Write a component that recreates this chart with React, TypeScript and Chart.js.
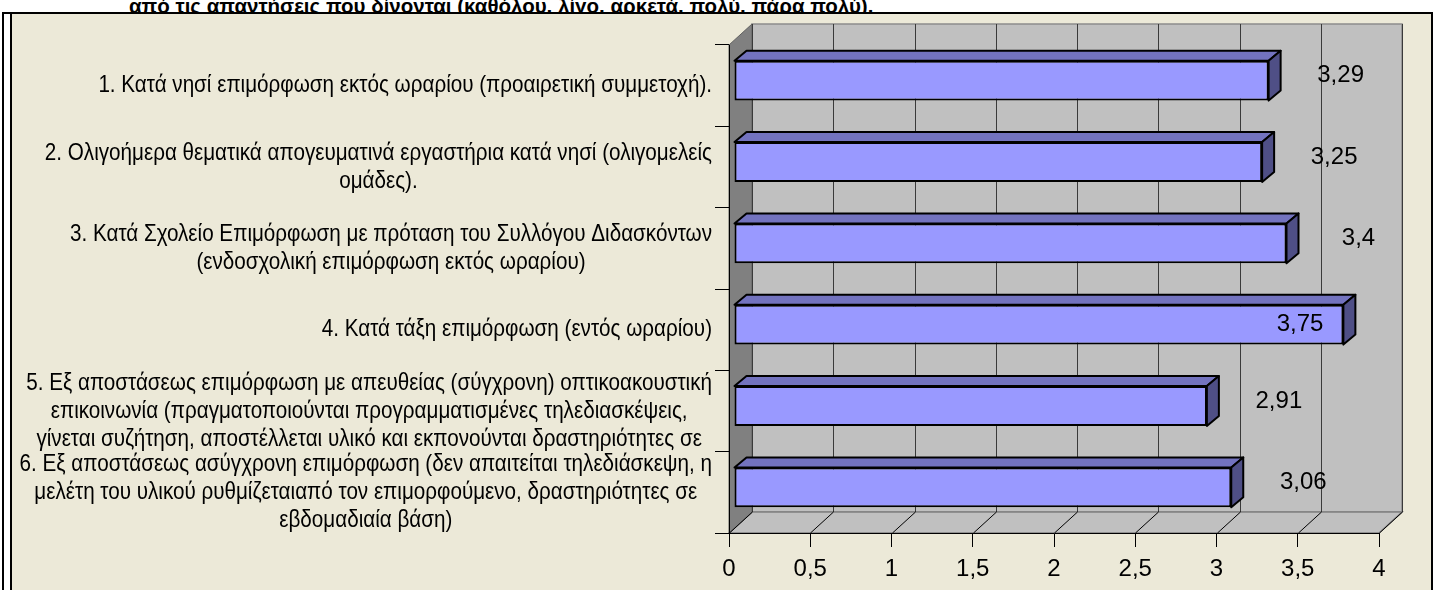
import React, { useEffect, useRef } from 'react';
import { Chart, registerables } from 'chart.js';

Chart.register(...registerables);

// ---------- data ----------
const categories: string[][] = [
  ['1. Κατά νησί επιμόρφωση εκτός ωραρίου (προαιρετική συμμετοχή).'],
  ['2. Ολιγοήμερα θεματικά απογευματινά εργαστήρια κατά νησί (ολιγομελείς', 'ομάδες).'],
  ['3. Κατά Σχολείο Επιμόρφωση με πρόταση του Συλλόγου Διδασκόντων', '(ενδοσχολική επιμόρφωση εκτός ωραρίου)'],
  ['4. Κατά τάξη επιμόρφωση (εντός ωραρίου)'],
  [
    '5. Εξ αποστάσεως επιμόρφωση με απευθείας (σύγχρονη) οπτικοακουστική',
    'επικοινωνία (πραγματοποιούνται προγραμματισμένες τηλεδιασκέψεις,',
    'γίνεται συζήτηση, αποστέλλεται υλικό και εκπονούνται δραστηριότητες σε',
  ],
  [
    '6. Εξ αποστάσεως ασύγχρονη επιμόρφωση (δεν απαιτείται τηλεδιάσκεψη, η',
    'μελέτη του υλικού ρυθμίζεταιαπό τον επιμορφούμενο, δραστηριότητες σε',
    'εβδομαδιαία βάση)',
  ],
];
const values: number[] = [3.29, 3.25, 3.4, 3.75, 2.91, 3.06];
const axisMin = 0;
const axisMax = 4;
const axisStep = 0.5;
const titleText = 'από τις απαντήσεις που δίνονται (καθόλου, λίγο, αρκετά, πολύ, πάρα πολύ).';

// ---------- styles ----------
const FONT = '"Liberation Sans", Arial, Helvetica, sans-serif';
const W = 1433;
const H = 590;
const DX = 23; // wall depth
const DY = -21;
const BAR_SHIFT_X = 5; // bar front face position inside depth
const BAR_SHIFT_Y = -5;
const BAR_DX = 12; // bar depth
const BAR_DY = -10;
const LABEL_SIZE = 24;
const LABEL_LH = 28;
const LABEL_SX = 0.86;
const LABEL_GAP = 17;

const fmt = (v: number) => String(v).replace('.', ',');

const threeD = {
  id: 'threeD',
  beforeDraw(chart: any) {
    const { ctx, chartArea: a, scales } = chart;
    const x = scales.x;
    ctx.save();
    const poly = (pts: number[][], fill: string, stroke: string, lw = 1) => {
      ctx.beginPath();
      pts.forEach((p, i) => (i ? ctx.lineTo(p[0], p[1]) : ctx.moveTo(p[0], p[1])));
      ctx.closePath();
      ctx.fillStyle = fill;
      ctx.fill();
      ctx.strokeStyle = stroke;
      ctx.lineWidth = lw;
      ctx.stroke();
    };
    // back wall
    poly(
      [
        [a.left + DX, a.top + DY],
        [a.right + DX, a.top + DY],
        [a.right + DX, a.bottom + DY],
        [a.left + DX, a.bottom + DY],
      ],
      '#C0C0C0',
      '#8C8C8C',
      1.5
    );
    // floor
    poly(
      [
        [a.left, a.bottom],
        [a.left + DX, a.bottom + DY],
        [a.right + DX, a.bottom + DY],
        [a.right, a.bottom],
      ],
      '#C0C0C0',
      '#808080',
      1.5
    );
    // side wall
    poly(
      [
        [a.left, a.top],
        [a.left + DX, a.top + DY],
        [a.left + DX, a.bottom + DY],
        [a.left, a.bottom],
      ],
      '#808080',
      '#606060',
      1
    );
    // gridlines on back wall + floor
    ctx.lineWidth = 1;
    x.ticks.forEach((t: any) => {
      const px = Math.round(x.getPixelForValue(t.value)) + 0.5;
      ctx.strokeStyle = '#3A3A3A';
      ctx.beginPath();
      ctx.moveTo(px + DX, a.top + DY);
      ctx.lineTo(px + DX, a.bottom + DY);
      ctx.stroke();
      ctx.strokeStyle = '#000';
      ctx.beginPath();
      ctx.moveTo(px, a.bottom);
      ctx.lineTo(px + DX, a.bottom + DY);
      ctx.stroke();
    });
    ctx.restore();
  },
  beforeDatasetsDraw(chart: any) {
    const { ctx } = chart;
    ctx.save();
    ctx.translate(BAR_SHIFT_X, BAR_SHIFT_Y);
    const meta = chart.getDatasetMeta(0);
    meta.data.forEach((bar: any) => {
      const { x, y, base, height } = bar.getProps(['x', 'y', 'base', 'height'], true);
      const top = y - height / 2;
      const bottom = y + height / 2;
      ctx.lineWidth = 2;
      ctx.lineJoin = 'round';
      ctx.strokeStyle = '#000';
      // top face
      ctx.beginPath();
      ctx.moveTo(base, top);
      ctx.lineTo(base + BAR_DX, top + BAR_DY);
      ctx.lineTo(x + BAR_DX, top + BAR_DY);
      ctx.lineTo(x, top);
      ctx.closePath();
      ctx.fillStyle = '#7373BF';
      ctx.fill();
      ctx.stroke();
      // side face
      ctx.beginPath();
      ctx.moveTo(x, top);
      ctx.lineTo(x + BAR_DX, top + BAR_DY);
      ctx.lineTo(x + BAR_DX, bottom + BAR_DY);
      ctx.lineTo(x, bottom);
      ctx.closePath();
      ctx.fillStyle = '#4F4F86';
      ctx.fill();
      ctx.stroke();
    });
  },
  afterDatasetsDraw(chart: any) {
    chart.ctx.restore();
  },
  afterDraw(chart: any) {
    const { ctx, chartArea: a, scales } = chart;
    const ys = scales.y;
    ctx.save();
    // category labels (right-aligned blocks, centred lines)
    ctx.font = `${LABEL_SIZE}px ${FONT}`;
    ctx.fillStyle = '#000';
    ctx.textBaseline = 'middle';
    ctx.textAlign = 'center';
    (chart.data.labels as string[][]).forEach((lines, i) => {
      const yc = ys.getPixelForValue(i);
      const maxW = Math.max(...lines.map((l) => ctx.measureText(l).width)) * LABEL_SX;
      const cx = a.left - LABEL_GAP - maxW / 2;
      lines.forEach((line, k) => {
        const ly = yc + (k - (lines.length - 1) / 2) * LABEL_LH;
        ctx.save();
        ctx.translate(cx, ly);
        ctx.scale(LABEL_SX, 1);
        ctx.fillText(line, 0, 0);
        ctx.restore();
      });
    });
    // value labels
    ctx.font = `24px ${FONT}`;
    const meta = chart.getDatasetMeta(0);
    meta.data.forEach((bar: any, i: number) => {
      const { x, y } = bar.getProps(['x', 'y'], true);
      const txt = fmt(chart.data.datasets[0].data[i]);
      const w = ctx.measureText(txt).width;
      let cx = x + 77;
      let cy = y - 10;
      if (cx + w / 2 > a.right + 10) {
        cx = x + BAR_SHIFT_X - 20 - w / 2;
        cy = y + BAR_SHIFT_Y;
      }
      ctx.fillText(txt, cx, cy);
    });
    ctx.restore();
  },
};

export default function App() {
  const ref = useRef<HTMLCanvasElement>(null);
  useEffect(() => {
    if (!ref.current) return;
    const chart = new Chart(ref.current, {
      type: 'bar',
      data: {
        labels: categories,
        datasets: [
          {
            data: values,
            backgroundColor: '#9999FF',
            borderColor: '#000',
            borderWidth: 2,
            borderSkipped: false,
            barPercentage: 0.49,
            categoryPercentage: 1,
          },
        ],
      },
      options: {
        indexAxis: 'y',
        responsive: false,
        animation: false,
        events: [],
        layout: { padding: { left: 729, right: 54, top: 45, bottom: 0 } },
        plugins: { legend: { display: false }, tooltip: { enabled: false } },
        scales: {
          x: {
            min: axisMin,
            max: axisMax,
            ticks: {
              stepSize: axisStep,
              color: '#000',
              font: { family: FONT, size: 24 },
              padding: 8,
              maxRotation: 0,
              autoSkip: false,
              callback: (v: any) => fmt(Number(v)),
            },
            grid: { drawOnChartArea: false, color: '#000', tickLength: 14 },
            border: { color: '#000', width: 1 },
            afterFit: (s: any) => {
              s.height = 57;
            },
          },
          y: {
            ticks: { display: false },
            grid: { drawOnChartArea: false, color: '#000', tickLength: 14, offset: true },
            border: { color: '#000', width: 1 },
            afterFit: (s: any) => {
              s.width = 0;
            },
          },
        },
      },
      plugins: [threeD],
    } as any);
    return () => chart.destroy();
  }, []);

  return (
    <div
      style={{
        position: 'fixed',
        left: 0,
        top: 0,
        width: W,
        height: H,
        overflow: 'hidden',
        background: '#fff',
      }}
    >
      <div
        style={{
          position: 'absolute',
          left: 129,
          top: -4,
          font: `bold 20.5px ${FONT}`,
          lineHeight: '20px',
          whiteSpace: 'nowrap',
          color: '#000',
        }}
      >
        {titleText}
      </div>
      <div style={{ position: 'absolute', left: 2, top: 12, width: 2, height: H, background: '#000' }} />
      <div
        style={{
          position: 'absolute',
          left: 10,
          top: 12,
          width: W - 10,
          height: H,
          boxSizing: 'border-box',
          background: '#ECE9D8',
          borderTop: '2px solid #000',
          borderLeft: '2px solid #000',
          borderRight: '2px solid #000',
        }}
      />
      <div style={{ position: 'absolute', left: 2, top: 12, width: 10, height: 2, background: '#000' }} />
      <canvas ref={ref} width={W} height={H} style={{ position: 'absolute', left: 0, top: 0 }} />
    </div>
  );
}
